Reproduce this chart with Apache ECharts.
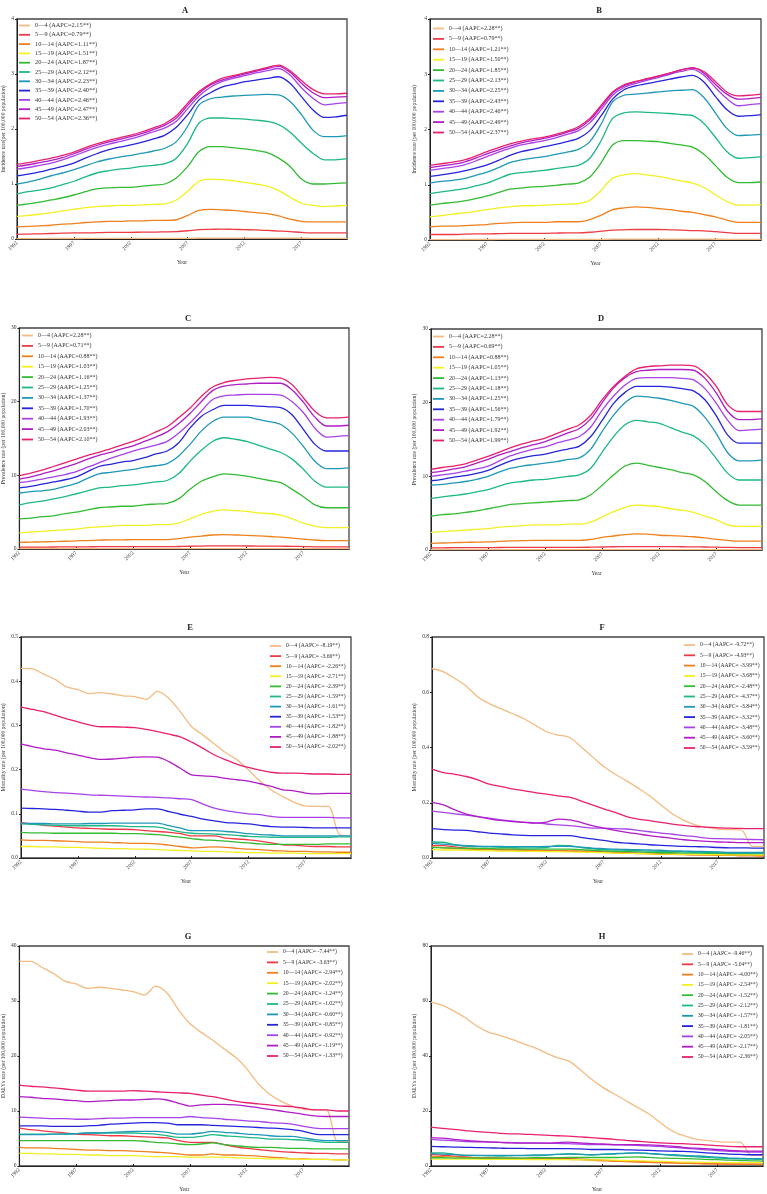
<!DOCTYPE html>
<html>
<head>
<meta charset="utf-8">
<script src="https://cdn.jsdelivr.net/npm/echarts@6/dist/echarts.min.js"></script>
<style>
html, body { margin: 0; padding: 0; background: #fff; }
#chart { width: 767px; height: 1194px; }
</style>
</head>
<body>
<div id="chart"></div>
<script>
const years = ['1992','1993','1994','1995','1996','1997','1998','1999','2000','2001','2002','2003','2004','2005','2006',
  '2007','2008','2009','2010','2011','2012','2013','2014','2015','2016','2017','2018','2019','2020','2021']
const ageGroups = ['0—4','5—9','10—14','15—19','20—24','25—29','30—34','35—39','40—44','45—49','50—54']
const ageColors = ['#F4BB82','#EE3B45','#F0801E','#F2F022','#33BB33','#1DB888','#1F98B8','#2424DD','#A842E8','#B01CC6','#E8206E']

// AAPC per panel, same order as ageGroups
const aapcA = ['2.15','0.79','1.11','1.51','1.87','2.12','2.23','2.40','2.46','2.47','2.36']
const aapcB = ['2.28','0.79','1.21','1.50','1.85','2.13','2.25','2.43','2.46','2.49','2.37']
const aapcC = ['2.28','0.71','0.88','1.03','1.16','1.25','1.37','1.70','1.93','2.03','2.10']
const aapcD = ['2.28','0.69','0.88','1.05','1.13','1.18','1.25','1.56','1.79','1.92','1.99']
const aapcE = ['-8.19','-3.66','-2.26','-2.71','-2.39','-1.59','-1.61','-1.53','-1.82','-1.88','-2.02']
const aapcF = ['-9.72','-4.93','-3.99','-3.68','-2.48','-4.37','-3.84','-3.32','-3.48','-3.60','-3.59']
const aapcG = ['-7.44','-3.63','-2.94','-2.02','-1.24','-1.02','-0.60','-0.85','-0.92','-1.19','-1.33']
const aapcH = ['-9.46','-5.04','-4.00','-2.54','-1.52','-2.12','-1.57','-1.81','-2.05','-2.17','-2.36']

// A: incidence rate
const incidenceA = [
  [0.008,0.008,0.008,0.009,0.009,0.009,0.01,0.01,0.01,0.01,0.01,0.01,0.011,0.011,0.012,0.013,0.015,0.016,0.016,0.016,0.016,0.016,0.016,0.016,0.015,0.014,0.013,0.013,0.013,0.013],
  [0.085,0.09,0.095,0.10,0.105,0.11,0.11,0.115,0.12,0.12,0.12,0.125,0.125,0.13,0.135,0.15,0.17,0.175,0.18,0.175,0.17,0.165,0.155,0.145,0.135,0.12,0.11,0.11,0.11,0.11],
  [0.22,0.23,0.24,0.25,0.27,0.28,0.30,0.31,0.32,0.32,0.33,0.33,0.34,0.34,0.35,0.43,0.52,0.54,0.53,0.52,0.50,0.48,0.46,0.42,0.36,0.32,0.31,0.31,0.31,0.31],
  [0.41,0.43,0.45,0.48,0.51,0.54,0.57,0.59,0.60,0.61,0.61,0.62,0.63,0.64,0.71,0.87,1.05,1.09,1.08,1.06,1.03,1.00,0.96,0.88,0.76,0.65,0.61,0.59,0.60,0.61],
  [0.61,0.64,0.67,0.71,0.75,0.80,0.86,0.91,0.93,0.94,0.94,0.96,0.98,1.00,1.11,1.32,1.59,1.68,1.68,1.66,1.64,1.61,1.57,1.47,1.32,1.09,1.00,1.00,1.01,1.02],
  [0.82,0.86,0.89,0.93,0.99,1.05,1.13,1.20,1.24,1.27,1.29,1.32,1.34,1.37,1.47,1.74,2.11,2.20,2.20,2.19,2.18,2.16,2.14,2.08,1.94,1.74,1.56,1.44,1.44,1.46],
  [1.00,1.04,1.09,1.15,1.20,1.26,1.33,1.40,1.45,1.49,1.52,1.56,1.60,1.65,1.77,2.05,2.44,2.55,2.58,2.60,2.61,2.62,2.63,2.62,2.50,2.26,1.98,1.86,1.86,1.88],
  [1.15,1.18,1.22,1.27,1.32,1.38,1.47,1.55,1.62,1.67,1.71,1.76,1.82,1.89,2.03,2.26,2.53,2.66,2.76,2.81,2.86,2.89,2.92,2.95,2.83,2.59,2.35,2.21,2.22,2.25],
  [1.27,1.30,1.34,1.38,1.44,1.51,1.59,1.66,1.72,1.77,1.82,1.88,1.95,2.02,2.14,2.37,2.60,2.76,2.86,2.92,2.97,3.02,3.06,3.10,2.98,2.75,2.56,2.44,2.46,2.48],
  [1.32,1.35,1.39,1.43,1.48,1.55,1.63,1.70,1.76,1.81,1.86,1.92,1.99,2.07,2.20,2.43,2.65,2.80,2.89,2.95,3.00,3.05,3.10,3.14,3.03,2.83,2.66,2.57,2.58,2.59],
  [1.36,1.39,1.43,1.47,1.52,1.58,1.66,1.73,1.79,1.84,1.89,1.95,2.02,2.10,2.24,2.47,2.68,2.82,2.92,2.97,3.02,3.07,3.12,3.16,3.06,2.88,2.72,2.64,2.64,2.65]
]

// B: incidence rate
const incidenceB = [
  [0.008,0.008,0.008,0.009,0.009,0.009,0.01,0.01,0.01,0.01,0.01,0.01,0.011,0.011,0.012,0.013,0.015,0.016,0.016,0.016,0.016,0.016,0.016,0.016,0.015,0.014,0.013,0.013,0.013,0.013],
  [0.10,0.10,0.10,0.105,0.11,0.11,0.115,0.12,0.12,0.12,0.12,0.125,0.13,0.13,0.14,0.16,0.18,0.185,0.19,0.19,0.19,0.185,0.18,0.17,0.165,0.15,0.135,0.12,0.12,0.12],
  [0.24,0.25,0.25,0.26,0.27,0.28,0.30,0.31,0.32,0.32,0.32,0.33,0.33,0.33,0.37,0.45,0.55,0.58,0.60,0.59,0.57,0.55,0.52,0.50,0.46,0.42,0.36,0.32,0.32,0.32],
  [0.42,0.44,0.47,0.49,0.52,0.55,0.58,0.60,0.62,0.62,0.63,0.64,0.65,0.66,0.72,0.90,1.12,1.18,1.20,1.18,1.15,1.11,1.07,1.03,0.95,0.82,0.70,0.63,0.63,0.64],
  [0.63,0.66,0.68,0.71,0.75,0.80,0.86,0.92,0.94,0.96,0.97,0.99,1.01,1.03,1.14,1.40,1.72,1.80,1.80,1.79,1.78,1.75,1.72,1.68,1.55,1.35,1.14,1.04,1.04,1.05],
  [0.84,0.87,0.90,0.93,0.98,1.03,1.11,1.19,1.22,1.24,1.26,1.29,1.32,1.35,1.48,1.80,2.20,2.30,2.32,2.31,2.30,2.29,2.27,2.25,2.11,1.86,1.60,1.48,1.49,1.51],
  [1.03,1.06,1.08,1.11,1.17,1.23,1.31,1.40,1.45,1.48,1.51,1.55,1.59,1.64,1.78,2.10,2.50,2.62,2.64,2.66,2.68,2.70,2.71,2.72,2.58,2.30,2.02,1.89,1.90,1.91],
  [1.15,1.18,1.21,1.25,1.30,1.36,1.44,1.53,1.60,1.64,1.69,1.73,1.78,1.84,1.98,2.25,2.55,2.72,2.79,2.83,2.87,2.91,2.95,2.98,2.86,2.60,2.36,2.24,2.25,2.27],
  [1.26,1.29,1.32,1.36,1.43,1.51,1.59,1.66,1.72,1.76,1.80,1.85,1.91,1.98,2.12,2.36,2.62,2.76,2.83,2.89,2.94,3.00,3.05,3.09,2.98,2.76,2.56,2.43,2.45,2.47],
  [1.31,1.34,1.37,1.41,1.48,1.56,1.63,1.70,1.76,1.80,1.84,1.89,1.95,2.02,2.17,2.41,2.66,2.79,2.86,2.91,2.96,3.02,3.08,3.12,3.02,2.82,2.64,2.55,2.56,2.58],
  [1.35,1.38,1.41,1.45,1.52,1.60,1.67,1.74,1.79,1.83,1.86,1.91,1.97,2.05,2.20,2.44,2.68,2.81,2.87,2.92,2.97,3.02,3.08,3.11,3.05,2.87,2.68,2.61,2.62,2.64]
]

// C: prevalence rate
const prevalenceC = [
  [0.04,0.04,0.04,0.04,0.04,0.05,0.05,0.05,0.05,0.05,0.05,0.05,0.05,0.05,0.05,0.06,0.06,0.06,0.06,0.06,0.06,0.06,0.06,0.06,0.06,0.06,0.05,0.05,0.05,0.05],
  [0.25,0.26,0.26,0.27,0.28,0.29,0.30,0.31,0.31,0.32,0.32,0.32,0.32,0.32,0.34,0.37,0.40,0.42,0.43,0.42,0.41,0.40,0.39,0.38,0.36,0.33,0.30,0.29,0.29,0.29],
  [0.90,0.93,0.97,1.00,1.05,1.10,1.15,1.20,1.25,1.25,1.26,1.27,1.27,1.27,1.40,1.60,1.75,1.90,1.95,1.90,1.85,1.78,1.70,1.60,1.48,1.35,1.22,1.15,1.15,1.15],
  [2.2,2.3,2.4,2.5,2.6,2.7,2.9,3.0,3.1,3.2,3.2,3.2,3.3,3.3,3.5,4.1,4.7,5.1,5.3,5.2,5.1,4.9,4.8,4.6,4.1,3.5,3.1,2.9,2.9,2.9],
  [4.1,4.2,4.4,4.5,4.8,5.0,5.3,5.6,5.7,5.8,5.8,6.0,6.1,6.2,6.8,8.1,9.2,9.8,10.2,10.1,9.9,9.6,9.3,9.0,8.1,7.1,6.0,5.6,5.6,5.6],
  [6.0,6.3,6.5,6.8,7.1,7.5,7.9,8.3,8.4,8.6,8.7,8.9,9.1,9.3,10.2,11.9,13.4,14.6,15.1,14.9,14.6,14.1,13.6,13.1,12.2,10.8,9.2,8.4,8.4,8.4],
  [7.6,7.8,7.9,8.1,8.5,8.9,9.6,10.2,10.4,10.6,10.8,11.1,11.3,11.6,12.6,14.2,16.0,17.3,17.9,17.9,17.9,17.6,17.3,16.9,15.7,13.9,11.9,10.9,10.9,11.0],
  [8.3,8.5,8.8,9.1,9.4,9.8,10.5,11.2,11.5,11.8,12.0,12.4,12.9,13.3,14.4,16.4,18.0,18.9,19.5,19.5,19.5,19.4,19.3,19.2,18.2,16.2,14.2,13.3,13.3,13.3],
  [9.0,9.2,9.5,9.8,10.1,10.5,11.1,11.7,12.3,12.8,13.3,13.7,14.1,14.6,15.7,17.1,18.7,20.3,20.8,20.9,21.0,21.0,21.0,20.9,20.0,18.5,16.4,15.2,15.3,15.4],
  [9.5,9.8,10.2,10.6,11.1,11.6,12.2,12.7,13.1,13.6,14.0,14.6,15.2,15.9,17.0,18.4,20.0,21.5,22.1,22.3,22.4,22.5,22.5,22.5,21.6,19.9,17.9,16.7,16.7,16.8],
  [9.95,10.3,10.7,11.2,11.7,12.2,12.7,13.1,13.6,14.1,14.6,15.2,15.9,16.6,17.8,19.1,20.7,22.0,22.6,22.9,23.1,23.2,23.3,23.2,22.3,20.5,18.7,17.8,17.8,17.9]
]

// D: prevalence rate
const prevalenceD = [
  [0.04,0.04,0.04,0.04,0.04,0.05,0.05,0.05,0.05,0.05,0.05,0.05,0.05,0.05,0.05,0.06,0.06,0.06,0.06,0.06,0.06,0.06,0.06,0.06,0.06,0.06,0.05,0.05,0.05,0.05],
  [0.30,0.30,0.31,0.32,0.32,0.33,0.34,0.35,0.35,0.36,0.36,0.36,0.36,0.36,0.38,0.41,0.44,0.46,0.47,0.47,0.46,0.45,0.44,0.43,0.41,0.38,0.35,0.33,0.33,0.33],
  [0.90,0.95,1.00,1.03,1.07,1.10,1.17,1.23,1.27,1.30,1.30,1.30,1.30,1.30,1.45,1.70,1.90,2.10,2.20,2.15,2.00,1.95,1.88,1.80,1.65,1.45,1.30,1.20,1.20,1.20],
  [2.4,2.5,2.6,2.7,2.8,2.9,3.1,3.2,3.3,3.4,3.4,3.4,3.5,3.5,3.8,4.5,5.2,5.8,6.1,6.0,5.9,5.6,5.4,5.1,4.6,4.1,3.4,3.2,3.2,3.2],
  [4.6,4.8,4.9,5.1,5.3,5.6,5.9,6.2,6.3,6.4,6.5,6.6,6.7,6.8,7.5,8.8,10.2,11.4,11.8,11.5,11.2,10.9,10.5,10.2,9.3,7.9,6.7,6.1,6.1,6.1],
  [7.0,7.2,7.4,7.6,7.9,8.2,8.7,9.1,9.3,9.5,9.6,9.8,10.0,10.2,11.1,13.3,15.4,17.0,17.6,17.4,17.2,16.6,16.0,15.5,14.3,12.4,10.4,9.5,9.5,9.5],
  [8.8,8.9,9.1,9.3,9.6,10.0,10.6,11.1,11.4,11.6,11.8,12.0,12.3,12.5,13.7,16.1,18.3,20.0,20.9,20.8,20.6,20.3,19.9,19.5,18.0,15.8,13.2,12.1,12.1,12.2],
  [9.4,9.6,9.9,10.1,10.4,10.8,11.5,12.1,12.5,12.8,13.0,13.4,13.7,14.1,15.4,17.6,19.9,21.4,22.2,22.2,22.2,22.1,21.9,21.6,20.4,18.2,15.6,14.5,14.5,14.5],
  [10.0,10.2,10.4,10.7,11.0,11.4,12.1,12.8,13.3,13.7,14.0,14.5,14.9,15.4,16.7,19.0,20.9,22.4,23.3,23.4,23.4,23.4,23.3,23.1,21.9,19.9,17.6,16.2,16.3,16.4],
  [10.5,10.7,11.0,11.3,11.8,12.3,12.9,13.4,13.9,14.3,14.7,15.3,15.9,16.5,17.8,20.0,22.0,23.4,24.2,24.4,24.5,24.5,24.5,24.4,23.3,21.3,18.8,17.7,17.7,17.8],
  [10.95,11.2,11.4,11.7,12.2,12.7,13.3,13.9,14.4,14.8,15.2,15.8,16.4,17.0,18.3,20.4,22.2,23.6,24.6,24.9,25.0,25.1,25.1,25.0,24.0,22.2,19.7,18.8,18.8,18.8]
]

// E: mortality rate
const mortalityE = [
  [0.429,0.428,0.416,0.404,0.387,0.381,0.372,0.374,0.371,0.367,0.365,0.359,0.377,0.361,0.331,0.297,0.278,0.258,0.238,0.222,0.199,0.174,0.154,0.139,0.126,0.118,0.117,0.117,0.053,0.050],
  [0.080,0.077,0.074,0.072,0.070,0.068,0.067,0.066,0.065,0.065,0.064,0.062,0.060,0.058,0.055,0.050,0.050,0.050,0.045,0.043,0.041,0.038,0.034,0.030,0.029,0.027,0.026,0.026,0.025,0.025],
  [0.041,0.040,0.040,0.039,0.038,0.037,0.036,0.036,0.035,0.034,0.033,0.033,0.032,0.029,0.026,0.023,0.024,0.025,0.024,0.022,0.020,0.019,0.017,0.016,0.015,0.015,0.014,0.014,0.013,0.013],
  [0.026,0.026,0.025,0.025,0.024,0.024,0.023,0.022,0.021,0.021,0.020,0.020,0.019,0.018,0.017,0.016,0.015,0.015,0.014,0.013,0.012,0.012,0.011,0.011,0.011,0.010,0.010,0.010,0.010,0.010],
  [0.058,0.057,0.057,0.056,0.056,0.056,0.056,0.056,0.056,0.055,0.055,0.054,0.053,0.050,0.047,0.044,0.041,0.040,0.038,0.036,0.034,0.032,0.031,0.031,0.031,0.031,0.031,0.032,0.032,0.032],
  [0.077,0.076,0.075,0.074,0.073,0.073,0.073,0.073,0.073,0.072,0.071,0.071,0.070,0.065,0.059,0.056,0.055,0.054,0.053,0.051,0.049,0.048,0.047,0.047,0.047,0.047,0.047,0.047,0.048,0.048],
  [0.079,0.078,0.078,0.077,0.077,0.077,0.078,0.078,0.079,0.079,0.079,0.079,0.079,0.073,0.068,0.062,0.062,0.062,0.060,0.058,0.055,0.053,0.052,0.050,0.050,0.050,0.050,0.050,0.050,0.050],
  [0.113,0.112,0.111,0.110,0.108,0.106,0.104,0.104,0.107,0.108,0.109,0.111,0.111,0.105,0.099,0.094,0.088,0.084,0.080,0.079,0.077,0.074,0.071,0.070,0.070,0.069,0.068,0.068,0.068,0.068],
  [0.156,0.153,0.150,0.148,0.147,0.145,0.143,0.142,0.141,0.140,0.139,0.138,0.137,0.136,0.134,0.132,0.122,0.113,0.107,0.103,0.100,0.098,0.094,0.092,0.092,0.092,0.092,0.092,0.091,0.091],
  [0.258,0.252,0.247,0.244,0.238,0.233,0.227,0.223,0.224,0.226,0.228,0.229,0.228,0.218,0.203,0.188,0.186,0.184,0.180,0.177,0.174,0.168,0.162,0.154,0.152,0.147,0.145,0.146,0.146,0.146],
  [0.342,0.336,0.331,0.323,0.315,0.308,0.301,0.297,0.297,0.296,0.295,0.291,0.286,0.280,0.274,0.262,0.248,0.233,0.222,0.212,0.205,0.199,0.194,0.192,0.192,0.191,0.190,0.190,0.189,0.189]
]

// F: mortality rate
const mortalityF = [
  [0.686,0.674,0.650,0.622,0.583,0.559,0.541,0.523,0.505,0.481,0.457,0.445,0.437,0.403,0.367,0.331,0.303,0.279,0.253,0.225,0.192,0.160,0.136,0.120,0.111,0.105,0.103,0.102,0.042,0.042],
  [0.046,0.045,0.040,0.036,0.034,0.032,0.031,0.030,0.029,0.028,0.026,0.026,0.025,0.024,0.023,0.022,0.020,0.019,0.018,0.017,0.016,0.015,0.013,0.012,0.011,0.011,0.010,0.009,0.009,0.008],
  [0.040,0.037,0.034,0.032,0.031,0.030,0.029,0.029,0.028,0.027,0.026,0.026,0.026,0.025,0.023,0.021,0.018,0.017,0.016,0.015,0.013,0.013,0.012,0.011,0.011,0.010,0.010,0.009,0.009,0.008],
  [0.030,0.029,0.029,0.028,0.027,0.026,0.025,0.025,0.024,0.024,0.023,0.023,0.022,0.021,0.020,0.019,0.018,0.017,0.016,0.015,0.014,0.014,0.013,0.013,0.012,0.012,0.011,0.011,0.011,0.011],
  [0.038,0.037,0.036,0.035,0.035,0.034,0.033,0.033,0.032,0.032,0.032,0.032,0.032,0.030,0.028,0.026,0.024,0.023,0.022,0.020,0.019,0.019,0.018,0.018,0.017,0.017,0.016,0.016,0.016,0.016],
  [0.058,0.057,0.048,0.042,0.041,0.040,0.039,0.038,0.037,0.037,0.038,0.046,0.045,0.038,0.034,0.030,0.029,0.028,0.027,0.025,0.024,0.023,0.022,0.020,0.020,0.019,0.019,0.018,0.018,0.018],
  [0.054,0.050,0.047,0.045,0.043,0.042,0.042,0.041,0.041,0.041,0.042,0.042,0.042,0.039,0.036,0.034,0.032,0.031,0.030,0.029,0.028,0.026,0.025,0.024,0.023,0.022,0.020,0.020,0.020,0.020],
  [0.106,0.103,0.101,0.100,0.095,0.090,0.087,0.084,0.082,0.081,0.081,0.081,0.081,0.075,0.069,0.064,0.057,0.054,0.051,0.048,0.046,0.044,0.042,0.041,0.040,0.038,0.037,0.037,0.036,0.036],
  [0.170,0.165,0.160,0.155,0.150,0.144,0.138,0.134,0.130,0.127,0.123,0.120,0.117,0.113,0.108,0.108,0.106,0.105,0.100,0.095,0.090,0.086,0.081,0.077,0.072,0.070,0.069,0.068,0.067,0.066],
  [0.201,0.192,0.174,0.159,0.150,0.142,0.136,0.132,0.129,0.126,0.130,0.141,0.138,0.129,0.117,0.108,0.100,0.093,0.087,0.081,0.076,0.071,0.066,0.063,0.060,0.058,0.057,0.056,0.056,0.056],
  [0.322,0.309,0.303,0.295,0.283,0.267,0.259,0.250,0.244,0.237,0.231,0.225,0.220,0.207,0.192,0.178,0.165,0.150,0.141,0.135,0.129,0.123,0.118,0.114,0.112,0.109,0.108,0.107,0.106,0.106]
]

// G: DALYs rate
const dalysG = [
  [37.2,37.2,36.1,35.0,33.6,33.1,32.3,32.5,32.3,32.0,31.7,31.1,32.7,31.4,28.4,25.9,24.3,22.9,21.3,19.8,17.7,15.0,13.1,11.8,10.9,10.3,10.2,10.2,4.5,4.5],
  [6.9,6.6,6.4,6.2,6.0,5.8,5.7,5.6,5.5,5.5,5.4,5.3,5.2,5.1,4.6,4.3,4.3,4.3,3.9,3.5,3.2,3.0,2.8,2.6,2.5,2.4,2.3,2.3,2.2,2.2],
  [3.4,3.3,3.3,3.2,3.1,3.0,2.9,2.9,2.8,2.8,2.7,2.6,2.5,2.4,2.2,2.0,2.0,2.2,2.0,2.0,1.9,1.8,1.6,1.5,1.3,1.3,1.2,1.2,1.1,1.1],
  [2.3,2.3,2.2,2.2,2.1,2.1,2.0,2.0,1.9,1.9,1.9,1.8,1.7,1.7,1.7,1.6,1.6,1.6,1.6,1.5,1.4,1.4,1.3,1.3,1.3,1.2,1.2,1.2,1.1,1.1],
  [4.6,4.6,4.6,4.6,4.6,4.6,4.6,4.6,4.6,4.6,4.6,4.5,4.3,4.2,4.0,3.9,4.0,4.2,3.9,3.7,3.5,3.4,3.4,3.3,3.2,3.2,3.1,3.1,3.1,3.1],
  [5.8,5.8,5.8,5.8,5.8,5.9,6.0,6.0,6.0,6.0,6.0,5.9,5.8,5.5,5.2,5.2,5.4,5.7,5.5,5.4,5.2,5.1,4.9,4.9,4.8,4.7,4.5,4.3,4.3,4.3],
  [5.7,5.7,5.7,5.8,5.8,5.9,6.0,6.0,6.1,6.2,6.3,6.3,6.3,6.1,5.8,5.8,6.0,6.3,6.1,6.0,5.8,5.7,5.5,5.4,5.4,5.1,4.8,4.6,4.6,4.6],
  [7.3,7.3,7.3,7.2,7.2,7.2,7.3,7.4,7.6,7.7,7.8,7.9,7.9,7.8,7.5,7.5,7.5,7.4,7.3,7.2,7.1,7.0,6.9,6.8,6.6,6.3,5.8,5.7,5.7,5.7],
  [8.9,8.8,8.7,8.6,8.6,8.5,8.5,8.6,8.7,8.7,8.8,8.8,8.8,8.8,8.8,9.0,8.8,8.7,8.5,8.4,8.2,8.1,7.9,7.8,7.6,7.2,6.9,6.8,6.8,6.8],
  [12.6,12.5,12.3,12.2,12.0,11.9,11.7,11.8,11.9,12.0,12.0,12.1,12.2,12.0,11.4,10.9,11.1,11.2,11.2,11.1,10.9,10.6,10.3,10.0,9.7,9.4,9.1,9.0,9.0,9.0],
  [14.7,14.5,14.4,14.2,14.0,13.8,13.6,13.6,13.6,13.6,13.7,13.6,13.5,13.4,13.3,13.2,12.9,12.6,12.2,11.8,11.5,11.3,11.1,10.9,10.8,10.5,10.2,10.2,10.0,10.0]
]

// H: DALYs rate
const dalysH = [
  [59.6,58.4,56.3,53.9,50.9,48.7,47.5,46.1,44.6,43.1,41.2,39.4,38.2,35.2,31.6,28.6,26.2,23.8,21.4,19.0,15.9,12.9,11.1,9.9,9.3,8.9,8.7,8.7,3.9,3.9],
  [4.2,3.9,3.6,3.3,3.0,3.0,2.9,2.9,2.8,2.8,2.7,2.7,2.7,2.5,2.3,2.1,1.9,1.8,1.7,1.5,1.3,1.2,1.1,1.0,0.9,0.8,0.7,0.7,0.7,0.7],
  [3.6,3.4,3.3,3.1,3.0,2.9,2.8,2.7,2.7,2.6,2.5,2.5,2.4,2.3,2.1,1.9,1.7,1.6,1.4,1.3,1.2,1.1,1.0,0.9,0.8,0.8,0.7,0.7,0.6,0.6],
  [2.5,2.5,2.5,2.5,2.5,2.4,2.4,2.4,2.4,2.3,2.3,2.3,2.3,2.3,2.2,2.2,2.1,2.0,1.9,1.8,1.7,1.6,1.4,1.4,1.3,1.3,1.2,1.2,1.2,1.2],
  [3.0,3.0,2.9,2.9,2.9,2.9,2.9,2.9,2.9,3.0,3.0,3.0,3.1,3.1,3.1,3.1,3.1,3.2,3.3,3.1,2.9,2.8,2.7,2.6,2.4,2.3,2.1,2.0,1.9,1.8],
  [4.8,4.8,4.3,3.9,3.8,3.7,3.6,3.7,3.8,3.8,3.9,4.2,4.5,4.3,4.1,4.2,4.3,4.6,4.8,4.5,4.2,3.9,3.6,3.4,3.1,2.9,2.7,2.6,2.5,2.4],
  [4.5,4.3,4.1,3.9,3.9,3.9,3.9,3.9,3.9,4.0,4.0,4.2,4.3,4.2,4.1,4.3,4.5,4.7,4.8,4.6,4.3,4.1,3.9,3.7,3.5,3.2,2.9,2.8,2.7,2.7],
  [7.1,7.0,6.9,6.8,6.7,6.6,6.5,6.4,6.4,6.3,6.3,6.3,6.3,6.2,6.0,6.0,6.0,5.9,5.8,5.7,5.5,5.4,5.3,5.1,4.8,4.6,4.3,4.2,4.1,4.1],
  [9.7,9.4,9.2,8.9,8.8,8.7,8.6,8.5,8.4,8.4,8.3,8.2,8.1,8.0,7.8,7.8,7.7,7.6,7.5,7.3,7.1,6.8,6.5,6.2,5.9,5.6,5.3,5.2,5.1,5.1],
  [10.3,10.1,9.7,9.3,9.0,8.8,8.6,8.4,8.3,8.3,8.3,8.5,8.7,8.4,8.1,8.0,7.8,7.8,7.8,7.7,7.5,7.2,6.8,6.5,6.3,6.0,5.7,5.5,5.4,5.4],
  [14.1,13.7,13.3,12.9,12.5,12.2,11.9,11.7,11.6,11.4,11.2,11.0,10.9,10.6,10.3,10.0,9.7,9.3,9.0,8.7,8.4,8.2,8.1,7.9,7.7,7.4,7.1,7.0,7.0,7.0]
]

const FONT = 'Liberation Serif'

// layout of each panel
const panels = [
  { tag: 'A', data: incidenceA, aapc: aapcA, yName: 'Incidence rate(per 100,000 population)', max: 4, interval: 1, dec: 0,
    grid: [15, 19, 332, 220], titleX: 180, titleY: 1, legend: [19, 22.5, 3.3, 6.3], yGap: 10 },
  { tag: 'B', data: incidenceB, aapc: aapcB, yName: 'Incidence rate (per 100,000 population)', max: 4, interval: 1, dec: 0,
    grid: [430, 19, 331, 221], titleX: 594, titleY: 1, legend: [433, 25.5, 4.4, 6], yGap: 12 },
  { tag: 'C', data: prevalenceC, aapc: aapcC, yName: 'Prevalence rate (per 100,000 population)', max: 30, interval: 10, dec: 0,
    grid: [17, 328, 332, 221], titleX: 183, titleY: 309, legend: [22, 332.5, 4.4, 6], yGap: 11 },
  { tag: 'D', data: prevalenceD, aapc: aapcD, yName: 'Prevalence rate (per 100,000 population)', max: 30, interval: 10, dec: 0,
    grid: [431, 329, 331, 221], titleX: 596, titleY: 309, legend: [433, 333.5, 4.4, 6], yGap: 13 },
  { tag: 'E', data: mortalityE, aapc: aapcE, yName: 'Mortality rate (per 100,000 population)', max: 0.5, interval: 0.1, dec: 1,
    grid: [19, 637, 332, 221], titleX: 185, titleY: 618, legend: [270, 643, 4.1, 5.7], yGap: 14 },
  { tag: 'F', data: mortalityF, aapc: aapcF, yName: 'Mortality rate (per 100,000 population)', max: 0.8, interval: 0.2, dec: 1,
    grid: [432, 637, 332, 221], titleX: 597, titleY: 618, legend: [684, 642, 4.3, 5.7], yGap: 14 },
  { tag: 'G', data: dalysG, aapc: aapcG, yName: 'DALYs rate (per 100,000 population)', max: 40, interval: 10, dec: 0,
    grid: [17, 946, 332, 221], titleX: 183, titleY: 927, legend: [267, 949, 4.4, 5.7], yGap: 12 },
  { tag: 'H', data: dalysH, aapc: aapcH, yName: 'DALYs rate (per 100,000 population)', max: 80, interval: 20, dec: 0,
    grid: [431, 946, 332, 221], titleX: 597, titleY: 927, legend: [682, 951, 4.3, 5.7], yGap: 13 }
]

const legendName = (p, i) => {
  const v = p.aapc[i]
  const eq = v.startsWith('-') ? '= ' : '='
  return ageGroups[i] + ' (AAPC' + eq + v + '**)'
}

const option = {
  animation: false,
  backgroundColor: '#fff',
  textStyle: { fontFamily: FONT },
  title: [],
  grid: [],
  xAxis: [],
  yAxis: [],
  legend: [],
  series: []
}

panels.forEach((p, k) => {
  option.title.push({
    text: p.tag, left: p.titleX, top: p.titleY, textAlign: 'center',
    textStyle: { fontFamily: FONT, fontSize: 8.5, fontWeight: 'bold', color: '#222' }
  })
  option.grid.push({
    left: p.grid[0], top: p.grid[1], width: p.grid[2], height: p.grid[3],
    show: true, borderColor: '#444', borderWidth: 1.3, backgroundColor: 'transparent'
  })
  option.xAxis.push({
    type: 'category', gridIndex: k, data: years, boundaryGap: false,
    name: 'Year', nameLocation: 'middle', nameGap: 21,
    nameTextStyle: { fontFamily: FONT, fontSize: 5.5, color: '#333' },
    axisLine: { lineStyle: { color: '#222', width: 1 } },
    axisTick: { inside: true, length: 2, interval: 4, lineStyle: { color: '#222' } },
    axisLabel: { interval: 4, rotate: 45, fontSize: 5.5, fontFamily: FONT, color: '#333', margin: 3 },
    splitLine: { show: false }
  })
  option.yAxis.push({
    type: 'value', gridIndex: k, min: 0, max: p.max, interval: p.interval,
    name: p.yName, nameLocation: 'middle', nameGap: p.yGap, nameRotate: 90,
    nameTextStyle: { fontFamily: FONT, fontSize: 5.6, color: '#333' },
    axisLine: { show: true, lineStyle: { color: '#222', width: 1 } },
    axisTick: { show: true, length: 2, lineStyle: { color: '#222' } },
    axisLabel: { fontSize: 5.5, fontFamily: FONT, color: '#333', margin: 3,
      formatter: v => v.toFixed(p.dec) },
    splitLine: { show: false }
  })
  const names = ageGroups.map((g, i) => legendName(p, i))
  option.legend.push({
    orient: 'vertical', left: p.legend[0], top: p.legend[1], itemGap: p.legend[2],
    itemWidth: 11, itemHeight: 1.8, icon: 'rect', padding: 0,
    textStyle: { fontFamily: FONT, fontSize: p.legend[3], color: '#333', lineHeight: 6 },
    data: names
  })
  p.data.forEach((vals, i) => {
    option.series.push({
      name: names[i], type: 'line', xAxisIndex: k, yAxisIndex: k,
      data: vals, showSymbol: false, symbol: 'none', smooth: 0.3,
      color: ageColors[i],
      lineStyle: { width: 1.3, color: ageColors[i] },
      z: 2 + i
    })
  })
})

const chart = echarts.init(document.getElementById('chart'))
chart.setOption(option)
</script>
</body>
</html>
